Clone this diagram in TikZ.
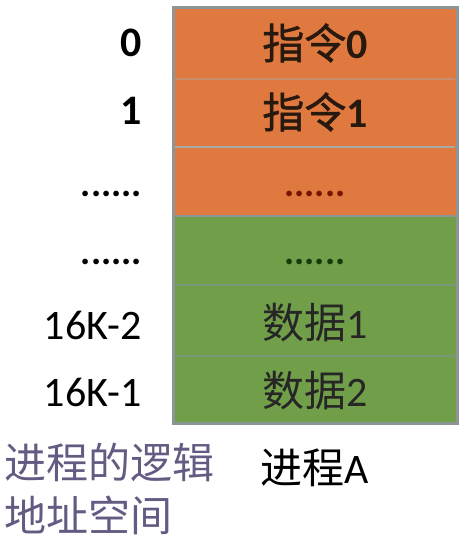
\documentclass[tikz,border=0pt]{standalone}
\usepackage{fontspec}
\setmainfont{Carlito}
\newfontfamily\cjk{Noto Sans CJK SC}
\newfontfamily\cjkb[FakeBold=1.2]{Noto Sans CJK SC}
\definecolor{orangefill}{RGB}{223,121,63}
\definecolor{greenfill}{RGB}{113,158,73}
\definecolor{frame}{RGB}{140,150,150}
\definecolor{sepo}{RGB}{200,140,110}
\definecolor{sepg}{RGB}{120,150,120}
\definecolor{txtdark}{RGB}{40,25,15}
\definecolor{dotred}{RGB}{120,20,0}
\definecolor{dotgreen}{RGB}{20,60,10}
\definecolor{purpletxt}{RGB}{100,90,130}
\tikzset{
  big/.style={font=\fontsize{42}{50}\selectfont, inner sep=0pt},
  dots/.style={font=\fontsize{38}{46}\selectfont, inner sep=0pt},
  addr/.style={big, anchor=east, text=black},
  cell/.style={big, text=txtdark},
}
\begin{document}
\begin{tikzpicture}[x=1pt,y=-1pt]
\useasboundingbox (0,0) rectangle (466,535);
% rows
\fill[orangefill] (173,8) rectangle (457,216);
\fill[greenfill] (173,216) rectangle (457,423);
\draw[sepo, line width=1.5pt] (175,79) -- (455,79);
\draw[frame!80, line width=2pt] (175,147) -- (455,147);
\draw[frame, line width=2pt] (175,216) -- (455,216);
\draw[sepg, line width=1.5pt] (175,285) -- (455,285);
\draw[sepg, line width=1.5pt] (175,356) -- (455,356);
\draw[frame, line width=3pt] (173,8) rectangle (457,423);
% cell texts
\node[cell] (c0) at (315,43) {{\cjkb 指令}\textbf{0}};
\node[cell] (c1) at (315,112) {{\cjkb 指令}\textbf{1}};
\node[dots, text=dotred, anchor=base] (c2) at (315,196) {\textbf{......}};
\node[dots, text=dotgreen, anchor=base] (c3) at (315,264) {\textbf{......}};
\node[cell, text=black!85] (c4) at (315,323) {{\cjk 数据}1};
\node[cell, text=black!85] (c5) at (315,391) {{\cjk 数据}2};
% address labels
\node[addr] (a0) at (142,43) {\textbf{0}};
\node[addr] (a1) at (142,111) {\textbf{1}};
\node[dots, anchor=base east] (a2) at (142,196) {\textbf{......}};
\node[dots, anchor=base east] (a3) at (142,264) {\textbf{......}};
\node[addr] (a4) at (142,325) {16K-2};
\node[addr] (a5) at (142,392) {16K-1};
% bottom labels
\node[big, anchor=west, text=purpletxt] (l1) at (4,462) {\cjk 进程的逻辑};
\node[big, anchor=west, text=purpletxt] (l2) at (4,515) {\cjk 地址空间};
\node[big, text=black] (pa) at (315,468) {{\cjk 进程}A};
\end{tikzpicture}
\end{document}
